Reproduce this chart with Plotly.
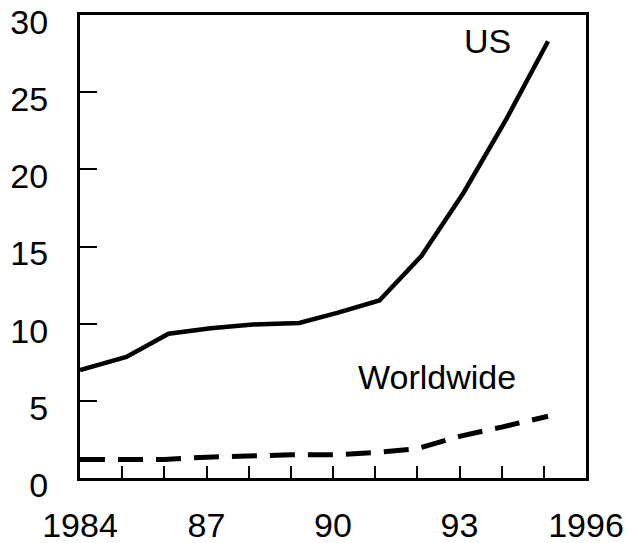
import plotly.graph_objects as go

us_years = [1984, 1985.1, 1986.1, 1987.1, 1988.1, 1989.2, 1990.1, 1991.1, 1992.1, 1993.1, 1994.1, 1995.1]
us_values = [7.0, 7.85, 9.35, 9.7, 9.95, 10.05, 10.7, 11.5, 14.4, 18.5, 23.2, 28.3]

ww_years = [1984, 1985, 1986, 1987, 1988, 1989, 1990, 1991, 1992, 1993, 1994, 1995.1]
ww_values = [1.2, 1.2, 1.2, 1.35, 1.45, 1.5, 1.5, 1.65, 1.9, 2.7, 3.3, 4.0]

x_tickvals = list(range(1984, 1997))
x_ticktext = ["1984", "", "", "87", "", "", "90", "", "", "93", "", "", "1996"]
y_tickvals = [0, 5, 10, 15, 20, 25, 30]

FONT = "Liberation Sans, Arial, sans-serif"

fig = go.Figure()
fig.add_trace(go.Scatter(x=us_years, y=us_values, mode="lines",
                         line=dict(color="black", width=4.5), name="US"))
fig.add_trace(go.Scatter(x=ww_years, y=ww_values, mode="lines",
                         line=dict(color="black", width=5, dash="25px,13px"), name="Worldwide"))

fig.add_annotation(x=1993.67, y=28.3, text="US", showarrow=False,
                   font=dict(family=FONT, size=34, color="black"))
fig.add_annotation(x=1992.47, y=6.55, text="Worldwide", showarrow=False,
                   font=dict(family=FONT, size=34, color="black"))

# page body has an 8px margin, so the figure is sized to fit the 633x543 window
fig.update_layout(
    width=625, height=535,
    margin=dict(l=72, r=47, t=7, b=65),
    paper_bgcolor="white", plot_bgcolor="white",
    showlegend=False,
    font=dict(family=FONT, size=34, color="black"),
)
fig.update_xaxes(range=[1984, 1996], tickvals=x_tickvals, ticktext=x_ticktext,
                 ticks="inside", ticklen=12, tickwidth=2, tickcolor="black",
                 showline=True, linecolor="black", linewidth=3, mirror=True,
                 showgrid=False, zeroline=False, ticklabelstandoff=15, automargin=False,
                 ticklabeloverflow="allow")
fig.update_yaxes(range=[0, 30], tickvals=y_tickvals,
                 ticks="inside", ticklen=17, tickwidth=2, tickcolor="black",
                 showline=True, linecolor="black", linewidth=3, mirror=True,
                 showgrid=False, zeroline=False, ticklabelstandoff=22, ticklabelshift=7,
                 automargin=False, ticklabeloverflow="allow")

fig.write_html("out.html")
